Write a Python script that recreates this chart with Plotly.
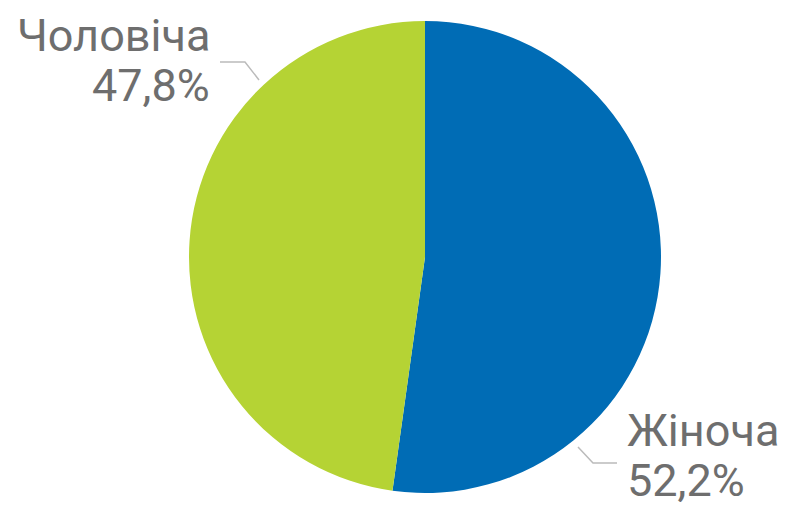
import plotly.graph_objects as go

labels = ["Жіноча", "Чоловіча"]
values = [52.2, 47.8]
colors = ["#006CB5", "#B5D334"]

# the page body adds an 8px margin, so the figure is drawn 8px smaller and shifted
OFF = 8
W, H = 786 - OFF, 506 - OFF

def px(x):
    return (x - OFF) / W

def py(y):
    return 1 - (y - OFF) / H

fig = go.Figure(go.Pie(
    labels=labels, values=values, sort=False, direction="clockwise", rotation=0,
    marker=dict(colors=colors, line=dict(width=0)), textinfo="none", hoverinfo="label+percent",
    domain=dict(x=[px(189), px(661)], y=[py(493), py(21)]),
))

fmt = lambda v: f"{v:.1f}".replace(".", ",") + "%"
font = dict(family="Roboto", size=45, color="#6E6E6E")

ann = [
    (labels[1], 211, 35, "right"),
    (fmt(values[1]), 211, 85, "right"),
    (labels[0], 626, 430, "left"),
    (fmt(values[0]), 626, 480, "left"),
]
annotations = [dict(text=t, x=px(x), y=py(y), xref="paper", yref="paper", xanchor=a,
                    yanchor="middle", showarrow=False, font=font, borderpad=0, height=44)
               for t, x, y, a in ann]

line = dict(color="#BBBBBB", width=1.5)
shapes = [
    dict(type="path", xref="paper", yref="paper",
         path=f"M {px(220)} {py(62)} L {px(245)} {py(62)} L {px(259)} {py(80)}", line=line),
    dict(type="path", xref="paper", yref="paper",
         path=f"M {px(578)} {py(447)} L {px(593)} {py(463)} L {px(617)} {py(463)}", line=line),
]

fig.update_layout(width=W, height=H, margin=dict(l=0, r=0, t=0, b=0), showlegend=False,
                  paper_bgcolor="white", plot_bgcolor="white",
                  annotations=annotations, shapes=shapes)
fig.write_html("out.html")
